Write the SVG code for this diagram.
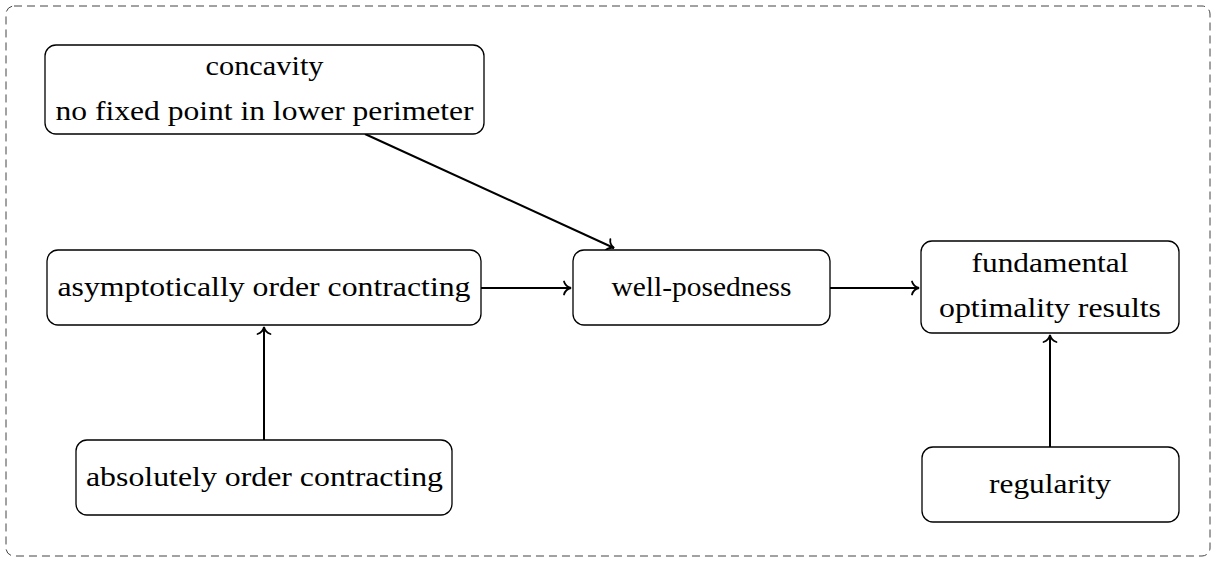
<svg xmlns="http://www.w3.org/2000/svg" width="1217" height="563" viewBox="0 0 1217 563">
<defs>
<style>
.box{fill:#fff;stroke:#000;stroke-width:1.3}
.t{font-family:"Liberation Serif","Times New Roman",serif;font-size:27px;fill:#000;text-anchor:middle}
.c{stroke:#000;stroke-width:2;fill:none;marker-end:url(#ar)}
</style>
<marker id="ar" viewBox="-8 -8 10 16" markerWidth="10" markerHeight="16" refX="1" refY="0" orient="auto" markerUnits="userSpaceOnUse">
<path d="M-6,-6.5 C-5,-3 -1.5,-0.6 1,0 C-1.5,0.6 -5,3 -6,6.5" fill="none" stroke="#000" stroke-width="1.8" stroke-linecap="round"/>
</marker>
</defs>
<rect x="6" y="6" width="1204" height="550" rx="8" fill="none" stroke="#444" stroke-width="1" stroke-dasharray="8,5"/>
<g id="connectors">
<line class="c" x1="365" y1="134" x2="614" y2="248"/>
<line class="c" x1="481" y1="288" x2="571" y2="288"/>
<line class="c" x1="830" y1="288" x2="919" y2="288"/>
<line class="c" x1="264" y1="440" x2="264" y2="327"/>
<line class="c" x1="1050" y1="447" x2="1050" y2="335"/>
</g>
<g id="concavity">
<rect class="box" x="45" y="45" width="439" height="89" rx="11"/>
<text class="t" x="264.5" y="75" textLength="118" lengthAdjust="spacingAndGlyphs">concavity</text>
<text class="t" x="264.5" y="120" textLength="418" lengthAdjust="spacingAndGlyphs">no fixed point in lower perimeter</text>
</g>
<g id="asymptotic">
<rect class="box" x="47" y="250" width="434" height="75" rx="11"/>
<text class="t" x="264" y="296" textLength="413" lengthAdjust="spacingAndGlyphs">asymptotically order contracting</text>
</g>
<g id="absolute">
<rect class="box" x="76" y="440" width="376" height="75" rx="11"/>
<text class="t" x="264.5" y="486" textLength="357" lengthAdjust="spacingAndGlyphs">absolutely order contracting</text>
</g>
<g id="wellposed">
<rect class="box" x="573" y="250" width="257" height="75" rx="11"/>
<text class="t" x="701.5" y="296" textLength="180" lengthAdjust="spacingAndGlyphs">well-posedness</text>
</g>
<g id="fundamental">
<rect class="box" x="921" y="241" width="258" height="92" rx="11"/>
<text class="t" x="1050" y="272" textLength="157" lengthAdjust="spacingAndGlyphs">fundamental</text>
<text class="t" x="1050" y="317" textLength="222" lengthAdjust="spacingAndGlyphs">optimality results</text>
</g>
<g id="regularity">
<rect class="box" x="922" y="447" width="257" height="75" rx="11"/>
<text class="t" x="1050" y="493" textLength="122" lengthAdjust="spacingAndGlyphs">regularity</text>
</g>
</svg>
